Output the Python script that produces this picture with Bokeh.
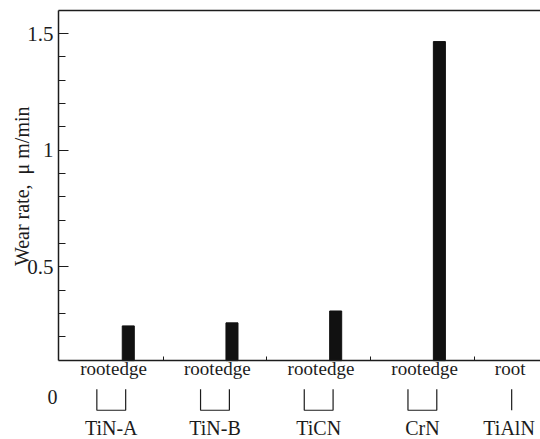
import math
from bokeh.plotting import figure
from bokeh.models import Range1d, FixedTicker, LinearAxis, CustomJSTickFormatter
from bokeh.core.properties import value
from bokeh.embed import file_html
from bokeh.resources import INLINE

# ---- data ----
groups = ["TiN-A", "TiN-B", "TiCN", "CrN", "TiAlN"]
sub_labels = ["root", "edge"]
root_wear = [0.0, 0.0, 0.0, 0.0, 0.0]
edge_wear = [0.246, 0.259, 0.31, 1.466, None]   # TiAlN edge not shown
y_major_ticks = [0.5, 1.0, 1.5]
y_minor_ticks = [0.2, 0.3, 0.4, 0.6, 0.7, 0.8, 0.9, 1.1, 1.2, 1.3, 1.4]
y_label = "Wear rate, \u00a0\u03bc m/min"
zero_label = "0"

# ---- layout constants ----
FONT = value("Liberation Serif")
INK = "#1c1c1c"
BASE = 0.097          # where the x axis sits
TOP = 1.6             # top frame line
LEFT = -0.5087        # where the y axis sits
X_END = 4.139
SUB_OFF = 0.164       # root/edge offset from group centre
BAR_W = 0.116

p = figure(width=540, height=439, output_backend="svg", toolbar_location=None,
           x_range=Range1d(-1.068, X_END), y_range=Range1d(-0.2414, 1.6422),
           min_border_left=0, min_border_right=0, min_border_top=0, min_border_bottom=0)
p.outline_line_color = None
p.xgrid.visible = False
p.ygrid.visible = False
p.background_fill_color = "white"
p.border_fill_color = "white"

# y axis
ya = p.yaxis[0]
ya.fixed_location = LEFT
ya.bounds = (BASE, TOP)
ya.ticker = FixedTicker(ticks=y_major_ticks, minor_ticks=y_minor_ticks)
ya.major_tick_in = 10
ya.major_tick_out = 0
ya.minor_tick_in = 7
ya.minor_tick_out = 0
ya.axis_line_width = 1.5
ya.axis_line_color = INK
ya.major_tick_line_color = INK
ya.minor_tick_line_color = INK
ya.major_tick_line_width = 1.2
ya.minor_tick_line_width = 1.2
ya.major_label_text_font = "Liberation Serif"
ya.major_label_text_font_size = "21px"
ya.major_label_text_color = INK
ya.major_label_standoff = 5
ya.formatter.use_scientific = False

# x axis at the baseline (group separator ticks only, no labels)
blank = CustomJSTickFormatter(code="return '';")
xa = p.xaxis[0]
xa.fixed_location = BASE
xa.bounds = (LEFT, X_END)
xa.ticker = FixedTicker(ticks=[i + 0.5 for i in range(len(groups) - 1)], minor_ticks=[])
xa.formatter = blank
xa.major_tick_in = 4
xa.major_tick_out = 0
xa.minor_tick_line_color = None
xa.axis_line_width = 1.5
xa.axis_line_color = INK
xa.major_tick_line_color = INK
xa.major_label_text_font_size = "0px"
xa.major_label_standoff = 0

# top frame line
ta = LinearAxis(fixed_location=TOP, bounds=(LEFT, X_END), ticker=FixedTicker(ticks=[]),
                formatter=blank,
                major_tick_in=0, major_tick_out=0, minor_tick_line_color=None,
                major_label_text_font_size="0px", major_label_standoff=0,
                axis_line_width=1.5, axis_line_color=INK)
p.add_layout(ta, "below")

# bars
root_x = [i - SUB_OFF for i in range(len(groups))]
edge_x = [i + SUB_OFF for i in range(len(groups))]
bx, bt = [], []
for xs, vals in ((root_x, root_wear), (edge_x, edge_wear)):
    for x, v in zip(xs, vals):
        if v is not None and v > BASE:
            bx.append(x)
            bt.append(v)
p.vbar(x=bx, top=bt, bottom=BASE, width=BAR_W, fill_color="#111111", line_color="#111111")

# sub labels (root / edge)
tx, tt = [], []
for i in range(len(groups)):
    paired = edge_wear[i] is not None
    tx.append(root_x[i] + (0.012 if paired else 0.01))
    tt.append(sub_labels[0])
    if paired:
        tx.append(edge_x[i] + 0.007)
        tt.append(sub_labels[1])
p.text(x=tx, y=[0.063] * len(tx), text=tt, text_font=FONT, text_font_size="19px",
       text_color=INK, text_align="center", text_baseline="alphabetic")

# brackets and group labels
bxs, bys, gx = [], [], []
B_TOP, B_BOT, INSET = -0.026, -0.116, 0.025
for i in range(len(groups)):
    a = root_x[i] + INSET
    if edge_wear[i] is not None:
        b = edge_x[i] - INSET
        bxs.append([a, a, b, b])
        bys.append([B_TOP, B_BOT, B_BOT, B_TOP])
        gx.append((root_x[i] + edge_x[i]) / 2)
    else:
        bxs.append([a, a])
        bys.append([B_TOP, B_BOT])
        gx.append(root_x[i])
p.multi_line(xs=bxs, ys=bys, line_color=INK, line_width=1.2)
p.text(x=gx, y=[-0.194] * len(gx), text=groups, text_font=FONT, text_font_size="20px",
       text_color=INK, text_align="center", text_baseline="alphabetic")

# stray zero label and y axis title
p.text(x=[-0.5665], y=[-0.060], text=[zero_label], text_font=FONT, text_font_size="20px",
       text_color=INK, text_align="center", text_baseline="alphabetic")
p.text(x=[-0.856], y=[0.845], text=[y_label], angle=math.pi / 2, text_font=FONT,
       text_font_size="20px", text_color=INK, text_align="center", text_baseline="alphabetic")

open("out.html", "w").write(file_html(p, INLINE))
